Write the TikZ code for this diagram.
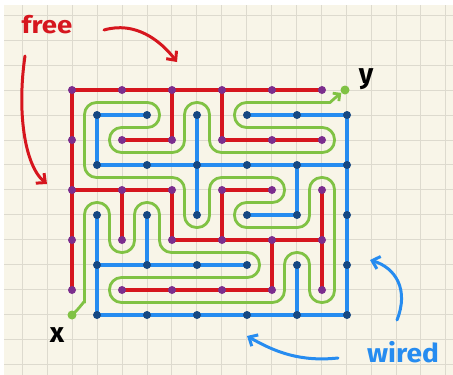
\documentclass[tikz,border=0pt]{standalone}
\usepackage{fontspec}
\newfontfamily\hand{Fira Sans}
\usetikzlibrary{arrows.meta}
\definecolor{paper}{RGB}{248,245,232}
\definecolor{gridc}{RGB}{221,218,206}
\definecolor{redc}{RGB}{214,22,30}
\definecolor{purplec}{RGB}{124,46,142}
\definecolor{bluec}{RGB}{38,140,240}
\definecolor{navyc}{RGB}{22,72,130}
\definecolor{greenc}{RGB}{128,194,68}
\pgfdeclarelayer{bg}
\pgfdeclarelayer{lines}
\pgfsetlayers{bg,lines,main}
\tikzset{
  rdot/.style={circle,fill=purplec,inner sep=0pt,minimum size=8pt},
  bdot/.style={circle,fill=navyc,inner sep=0pt,minimum size=8pt},
  gdot/.style={circle,fill=greenc,inner sep=0pt,minimum size=9pt},
  redline/.style={draw=redc,line width=3.8pt,line cap=round},
  blueline/.style={draw=bluec,line width=3.8pt,line cap=round},
  greenline/.style={draw=greenc,line width=2.8pt,line cap=round,rounded corners=12pt},
  gridline/.style={draw=gridc,line width=0.9pt},
  handarrow/.style={line width=3pt,line cap=round,line join=round,-{Straight Barb[length=7pt,width=13pt,line width=3pt]}},
  lbl/.style={inner sep=0pt,font=\hand\bfseries}
}
\begin{document}
\begin{tikzpicture}[x=1pt,y=-1pt]
\useasboundingbox (0,0) rectangle (453,375);
\begin{pgfonlayer}{bg}
  \fill[white] (0,0) rectangle (453,375);
  \fill[paper] (4,5) rectangle (453,375);
  \foreach \k in {0,...,17}{\draw[gridline] ({22.5+24.9*\k},5) -- ({22.5+24.9*\k},375);}
  \foreach \k in {0,...,14}{\draw[gridline] (4,{15.5+24.9*\k}) -- (453,{15.5+24.9*\k});}
\end{pgfonlayer}

\foreach \i in {0,...,5}{\foreach \j in {0,...,4}{
  \node[rdot] (r\i\j) at ({72+50*\i},{90+50*\j}) {};
  \node[bdot] (b\i\j) at ({97+50*\i},{115+50*\j}) {};
}}
\node[gdot] (gstart) at (72,315) {};
\node[gdot] (gend) at (345,90) {};

\begin{pgfonlayer}{lines}
  \foreach \a/\b in {r00/r10,r10/r20,r20/r30,r30/r40,r40/r50,
    r11/r21,r31/r41,r41/r51,
    r02/r12,r12/r22,r32/r42,
    r23/r33,r33/r43,r43/r53,
    r14/r24,r24/r34,r34/r44,
    r00/r01,r01/r02,r02/r03,r03/r04,
    r12/r13,r20/r21,r22/r23,r30/r31,r32/r33,r43/r44,r52/r53,r53/r54}
    {\draw[redline] (\a.center) -- (\b.center);}
  \foreach \a/\b in {b00/b10,b00/b01,
    b01/b11,b11/b21,b21/b31,b31/b41,b41/b51,
    b20/b21,b30/b40,b40/b50,
    b50/b51,b51/b52,b52/b53,b53/b54,
    b41/b42,b32/b42,b21/b22,
    b02/b03,b03/b04,b12/b13,
    b03/b13,b13/b23,b23/b33,
    b04/b14,b14/b24,b24/b34,b34/b44,b44/b54,b43/b44}
    {\draw[blueline] (\a.center) -- (\b.center);}
  \draw[greenline,-{Straight Barb[length=5pt,width=10pt,line width=2.8pt]}]
    (gstart.center) .. controls (80,308) and (84.5,300) .. (84.5,290)
    -- (84.5,202.5) -- (109.5,202.5) -- (109.5,252.5) -- (134.5,252.5)
    -- (134.5,202.5) -- (159.5,202.5) -- (159.5,252.5) -- (259.5,252.5)
    -- (259.5,277.5) -- (109.5,277.5) -- (109.5,302.5) -- (284.5,302.5)
    -- (284.5,252.5) -- (309.5,252.5) -- (309.5,302.5) -- (334.5,302.5)
    -- (334.5,177.5) -- (309.5,177.5) -- (309.5,227.5) -- (234.5,227.5)
    -- (234.5,202.5) -- (284.5,202.5) -- (284.5,177.5) -- (209.5,177.5)
    -- (209.5,227.5) -- (184.5,227.5) -- (184.5,177.5) -- (84.5,177.5)
    -- (84.5,102.5) -- (159.5,102.5) -- (159.5,127.5) -- (109.5,127.5)
    -- (109.5,152.5) -- (184.5,152.5) -- (184.5,102.5) -- (209.5,102.5)
    -- (209.5,152.5) -- (334.5,152.5) -- (334.5,127.5) -- (234.5,127.5)
    -- (234.5,102.5) -- (318,102.5) .. controls (330,102.5) and (336,97) .. (gend);
\end{pgfonlayer}

% labels
\node[lbl,text=redc,font=\hand\bfseries\fontsize{24}{24}\selectfont,xscale=1.15] (free) at (47,25) {free};
\node[lbl,text=bluec,font=\hand\bfseries\fontsize{26}{26}\selectfont,xscale=1.08] (wired) at (403,352) {wired};
\node[lbl,text=black,font=\hand\bfseries\fontsize{28}{28}\selectfont] (xl) at (57,335) {x};
\node[lbl,text=black,font=\hand\bfseries\fontsize{28}{28}\selectfont] (yl) at (366,79) {y};

\coordinate (fa1s) at (104,30);
\coordinate (fa1e) at (177,62);
\coordinate (fa2s) at (25,56);
\coordinate (fa2e) at (47,184);
\coordinate (wa1s) at (338,358);
\coordinate (wa1e) at (247,336);
\coordinate (wa2s) at (397,320);
\coordinate (wa2e) at (370,260);
\draw[handarrow,redc] (fa1s) .. controls (135,21) and (160,40) .. (fa1e);
\draw[handarrow,redc] (fa2s) .. controls (17,110) and (24,165) .. (fa2e);
\draw[handarrow,bluec] (wa1s) .. controls (300,362) and (275,352) .. (wa1e);
\draw[handarrow,bluec] (wa2s) .. controls (409,290) and (396,268) .. (wa2e);
\end{tikzpicture}
\end{document}
